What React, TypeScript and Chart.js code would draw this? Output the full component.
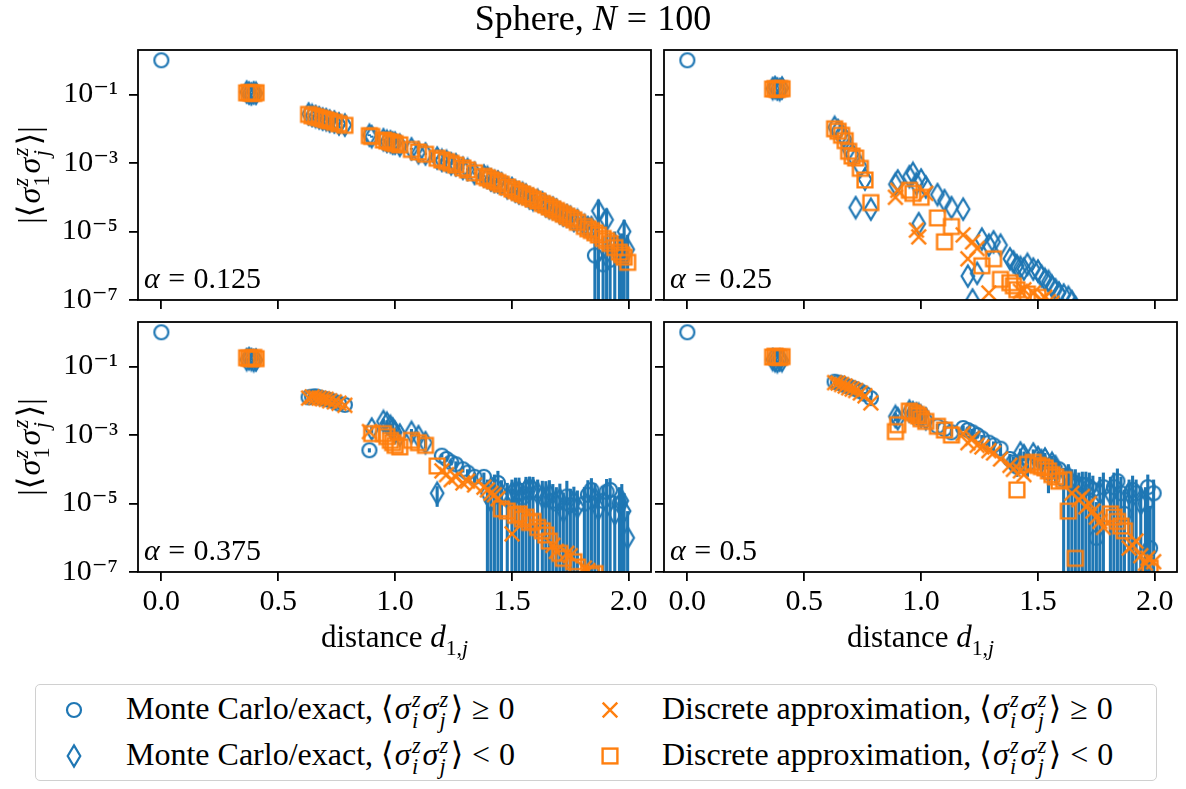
import React, { useEffect, useRef } from 'react';
import { Chart, registerables } from 'chart.js';

Chart.register(...registerables);

// ---------------- data ----------------
// distances d_{1,j} from site 1 (shared by all four panels); the last row holds
// additional sites in the dense far region
const distances = [
  0,
  0.365, 0.375, 0.385, 0.395, 0.405,
  0.63, 0.645, 0.66, 0.675, 0.69, 0.705, 0.72, 0.74, 0.76, 0.785,
  0.89, 0.9,
  0.95, 0.965, 0.98, 0.99, 1.0, 1.02,
  1.07, 1.1, 1.13,
  1.18, 1.2, 1.22, 1.24, 1.26, 1.29, 1.31, 1.34,
  1.38, 1.41, 1.44,
  1.48, 1.5, 1.53, 1.56, 1.59,
  1.63, 1.66, 1.69, 1.72, 1.75,
  1.78, 1.81, 1.84, 1.87, 1.89,
  1.92, 1.94, 1.96, 1.98, 1.995,
  1.395, 1.425, 1.455, 1.515, 1.545, 1.575, 1.61, 1.645, 1.675, 1.705, 1.735, 1.765, 1.825, 1.855, 1.905, 1.97,
];

const alphaLabels = ['0.125', '0.25', '0.375', '0.5'];

// alpha = 0.125
const mcA0125 = [
  1,
  -0.118, -0.11, -0.105, -0.112, -0.109,
  -0.027, -0.0245, -0.0228, -0.021, -0.0192, -0.0185, -0.0168, -0.0158, -0.0139, -0.0128,
  -6.5e-3, -5.9e-3,
  -4.8e-3, -4.3e-3, -4.2e-3, -3.8e-3, -3.8e-3, -3.3e-3,
  -2.6e-3, -2.0e-3, -1.85e-3,
  -1.4e-3, -1.2e-3, -1.12e-3, -9.5e-4, -8.9e-4, -7.0e-4, -6.5e-4, -5.0e-4,
  -4.2e-4, -3.2e-4, -2.8e-4,
  -1.9e-4, -1.8e-4, -1.35e-4, -1.15e-4, -8.6e-5,
  -6.9e-5, -5.0e-5, -4.3e-5, -3.0e-5, -2.6e-5,
  -2.1e-5, -1.5e-5, -1.3e-5, -4.0e-5, 1.1e-6,
  1.5e-6, -4.0e-6, 2.5e-6, -1.0e-5, -3.0e-6,
  -3.8e-4, -2.9e-4, -2.5e-4, -1.5e-4, -1.3e-4, -9.6e-5, -8.1e-5, -5.7e-5, -4.8e-5, -3.5e-5, -2.9e-5, -2.1e-5, -1.3e-5, 2.0e-6, -2.2e-5, 1.8e-6,
];
const mcErrA0125 = [
  0,
  5e-3, 5e-3, 5e-3, 5e-3, 5e-3,
  1e-3, 1e-3, 1e-3, 1e-3, 1e-3, 1e-3, 1e-3, 1e-3, 1e-3, 1e-3,
  4e-4, 4e-4,
  3e-4, 3e-4, 3e-4, 3e-4, 3e-4, 3e-4,
  1.5e-4, 1.5e-4, 1.5e-4,
  8e-5, 8e-5, 7e-5, 6e-5, 6e-5, 5e-5, 5e-5, 4e-5,
  3e-5, 2.5e-5, 2e-5,
  1.5e-5, 1.5e-5, 1.2e-5, 1e-5, 8e-6,
  6e-6, 5e-6, 4e-6, 3e-6, 3e-6,
  3e-6, 4e-6, 4e-6, 4.5e-5, 6e-6,
  7e-6, 6e-6, 5e-6, 1.2e-5, 5e-6,
  3e-5, 2.5e-5, 2e-5, 1.2e-5, 1e-5, 8e-6, 6e-6, 5e-6, 4e-6, 3e-6, 3e-6, 2e-6, 2e-6, 8e-6, 2.5e-5, 7e-6,
];
const daA0125 = [
  null,
  -0.112, -0.115, -0.11, -0.108, -0.113,
  -0.0263, -0.024, -0.0224, -0.0209, -0.0195, -0.0182, -0.017, -0.0155, -0.0141, -0.0126,
  -6.3e-3, -6.0e-3,
  -4.7e-3, -4.4e-3, -4.1e-3, -3.9e-3, -3.7e-3, -3.4e-3,
  -2.5e-3, -2.1e-3, -1.8e-3,
  -1.38e-3, -1.23e-3, -1.1e-3, -9.8e-4, -8.7e-4, -7.2e-4, -6.3e-4, -5.2e-4,
  -4.1e-4, -3.3e-4, -2.7e-4,
  -2.0e-4, -1.74e-4, -1.38e-4, -1.12e-4, -8.9e-5,
  -6.6e-5, -5.2e-5, -4.1e-5, -3.2e-5, -2.5e-5,
  -1.86e-5, -1.41e-5, -1.07e-5, -7.9e-6, -6.3e-6,
  -4.5e-6, -3.4e-6, -2.5e-6, -1.78e-6, -1.26e-6,
  -3.7e-4, -3.0e-4, -2.4e-4, -1.55e-4, -1.25e-4, -1.0e-4, -7.8e-5, -5.9e-5, -4.6e-5, -3.6e-5, -2.8e-5, -2.2e-5, -1.2e-5, -9.2e-6, -5.4e-6, -2.1e-6,
];

// alpha = 0.25
const mcA025 = [
  1,
  -0.15, -0.16, -0.145, -0.14, -0.155,
  -0.011, -8.9e-3, -7.1e-3, -5.0e-3, -2.5e-3, -1.8e-3, -5e-5, -8e-4, -3.4e-4, -4.5e-5,
  -2.4e-4, -3e-4,
  -4e-4, -5e-4, -2.5e-4, -1.7e-5, -3.2e-4, -2e-4,
  -1.2e-4, -8e-5, -5e-5,
  -4.5e-5, -5e-7, -1e-7, -6e-7, -6e-6, -4e-6, -5e-6, -4e-6,
  -1.6e-6, -1e-6, -8e-7,
  -8e-7, -7e-7, -4e-7, -2.5e-7, -1.6e-7,
  -1.2e-7, -6e-8, -4e-8, -3e-8, -2e-8,
  -1.5e-8, -1e-8, -8e-9, -6e-9, -5e-9,
  -4e-9, -3e-9, -2e-9, -1.5e-9, -1e-9,
  -1.3e-6, -9e-7, -1.1e-6, -5e-7, -3.5e-7, -2e-7, -1.4e-7, -9e-8, -5e-8, -3.5e-8, -2.5e-8, -1.8e-8, -9e-9, -7e-9, -4e-9, -2e-9,
];
const mcErrA025 = [
  0,
  0, 0, 0, 0, 0,
  0, 0, 0, 0, 0, 0, 0, 0, 0, 0,
  0, 0,
  0, 0, 0, 0, 0, 0,
  0, 0, 0,
  0, 0, 0, 0, 0, 0, 0, 0,
  0, 0, 0,
  0, 0, 0, 0, 0,
  0, 0, 0, 0, 0,
  0, 0, 0, 0, 0,
  0, 0, 0, 0, 0,
  0, 0, 0, 0, 0, 0, 0, 0, 0, 0, 0, 0, 0, 0, 0, 0,
];
const daA025 = [
  null,
  -0.145, -0.15, -0.14, -0.15, -0.148,
  -0.010, -8.5e-3, -6.5e-3, -4.5e-3, -2.2e-3, -1.6e-3, -1.4e-3, -7.0e-4, -3.2e-4, -7e-5,
  1e-4, 1.6e-4,
  -1.6e-4, -1.3e-4, 1.1e-5, 7e-6, -1.0e-4, 1.3e-4,
  -2.5e-5, -5e-6, -1.4e-5,
  8e-6, 1.6e-6, 5e-6, 3.2e-6, -1.0e-6, 1.6e-7, -1.6e-6, -4e-7,
  -3.2e-7, -2e-7, 2e-7,
  1.6e-7, -1.2e-7, 1.2e-7, 8e-8, 5e-8,
  3e-8, 2e-8, 1.5e-8, 1e-8, 8e-9,
  6e-9, 5e-9, 4e-9, 3e-9, 2e-9,
  1.5e-9, 1e-9, 8e-10, 6e-10, 5e-10,
  -2.6e-7, 1.8e-7, -1.5e-7, 1e-7, 9e-8, 6e-8, 4e-8, 3e-8, 2.5e-8, 1.6e-8, 1.2e-8, 9e-9, 4e-9, 3e-9, 1.5e-9, 7e-10,
];

// alpha = 0.375
const mcA0375 = [
  1,
  -0.16, -0.17, -0.16, -0.15, -0.155,
  0.0126, 0.0132, 0.0135, 0.0126, 0.0117, 0.0112, 0.0105, 9.5e-3, 8.3e-3, 7.6e-3,
  3.6e-4, -1.5e-3,
  -2.5e-3, -2.2e-3, -1.8e-3, -1.5e-3, -1.2e-3, -1.0e-3,
  -1.2e-3, -9e-4, -6e-4,
  -2e-5, 2.5e-4, 2e-4, 1.6e-4, 1.4e-4, 1.0e-4, 8e-5, 6e-5,
  6e-5, -1.2e-5, 4e-5,
  -1.5e-5, -2e-5, -2.2e-5, -2.5e-5, -2.5e-5,
  -1.6e-5, -1.8e-5, 1e-5, -6e-6, 9e-6,
  -8e-6, 1e-5, 2.5e-5, -7e-6, 1.2e-5,
  2.5e-5, -5e-6, 1e-5, -6e-6, -1e-6,
  -2e-5, 3e-5, -1.8e-5, -2.2e-5, 1.5e-5, -2.6e-5, -2e-5, -1.5e-5, 1.2e-5, -1.3e-5, 1.6e-5, -1.1e-5, 1.8e-5, -1.4e-5, 2.2e-5, -1.2e-5,
];
const mcErrA0375 = [
  0,
  0.01, 0.01, 0.01, 0.01, 0.01,
  1e-3, 1e-3, 1e-3, 1e-3, 1e-3, 1e-3, 1e-3, 1e-3, 1e-3, 1e-3,
  5e-5, 4e-4,
  5e-4, 5e-4, 4e-4, 4e-4, 3e-4, 3e-4,
  3e-4, 2e-4, 2e-4,
  1.2e-5, 3e-5, 3e-5, 3e-5, 3e-5, 2e-5, 2e-5, 2e-5,
  2e-5, 2e-5, 5e-5,
  2.5e-5, 3e-5, 3.5e-5, 3.5e-5, 3.5e-5,
  3e-5, 3e-5, 2e-5, 1.5e-5, 1.8e-5,
  1.6e-5, 2e-5, 3e-5, 1.5e-5, 2e-5,
  3e-5, 1.2e-5, 2e-5, 1.4e-5, 5e-6,
  3e-5, 4e-5, 3e-5, 3.5e-5, 2.5e-5, 3.5e-5, 3e-5, 3e-5, 2.5e-5, 2.5e-5, 3e-5, 2e-5, 3e-5, 2.5e-5, 3e-5, 2.5e-5,
];
const daA0375 = [
  null,
  -0.18, -0.175, -0.17, -0.185, -0.17,
  0.012, 0.013, 0.0125, 0.012, 0.0115, 0.011, 0.010, 9.3e-3, 8.5e-3, 7.4e-3,
  1.26e-3, -1.1e-3,
  -1.1e-3, -9e-4, -7e-4, -6e-4, -5e-4, -4.5e-4,
  -7e-4, -6e-4, -5e-4,
  -1.25e-4, 9e-5, 7e-5, 5e-5, 6e-5, 4e-5, 4.5e-5, 3.5e-5,
  3e-5, 2e-5, 1.4e-5,
  -6e-6, 1.3e-6, -5e-6, -4e-6, -3e-6,
  -1.6e-6, -8e-7, 4e-7, -2.5e-7, 3e-7,
  -1.4e-7, 1.3e-7, -8e-8, 6e-8, 5e-8,
  4e-8, 3e-8, 2e-8, 1.5e-8, 1e-8,
  2.5e-5, 1.8e-5, -7e-6, -4.5e-6, -3.5e-6, -2.8e-6, -2e-6, -1.2e-6, 6e-7, -3.5e-7, 3.5e-7, -2e-7, 1.1e-7, -9e-8, 5e-8, 3e-8,
];

// alpha = 0.5
const mcA05 = [
  1,
  -0.16, -0.15, -0.14, -0.155, -0.15,
  0.036, 0.034, 0.032, 0.028, 0.026, 0.024, 0.022, 0.019, 0.016, 0.012,
  -3.5e-3, -3.0e-3,
  -5e-3, -4.5e-3, -4.2e-3, -4e-3, -3.5e-3, -3e-3,
  1.8e-3, 1.5e-3, 1.2e-3,
  1.6e-3, 1.4e-3, 1.2e-3, 1.0e-3, 8e-4, 6e-4, 5e-4, 4e-4,
  2e-4, 1.2e-4, -2.5e-4,
  -2.8e-4, -2.2e-4, -2e-4, -1.5e-4, 1e-4,
  -6e-5, 4e-5, 3.5e-5, 3e-5, 1e-6,
  3e-5, -2e-5, 4.5e-5, 5e-6, -2e-5,
  2e-5, -1e-5, 1e-5, 5e-7, 2e-5,
  1.6e-4, -3e-4, 1.4e-4, -1.8e-4, 8e-5, -1.2e-4, 5e-5, 4e-5, -3e-5, 3.5e-5, 2.5e-5, -2e-5, 3e-5, 2e-5, 2.5e-5, 3e-5,
];
const mcErrA05 = [
  0,
  0.01, 0.01, 0.01, 0.01, 0.01,
  2e-3, 2e-3, 2e-3, 2e-3, 2e-3, 2e-3, 2e-3, 2e-3, 2e-3, 2e-3,
  1e-3, 1e-3,
  1.5e-3, 1.5e-3, 1.5e-3, 1.5e-3, 1e-3, 1e-3,
  3e-4, 3e-4, 3e-4,
  3e-4, 3e-4, 3e-4, 2e-4, 2e-4, 1.5e-4, 1.5e-4, 1.5e-4,
  8e-5, 6e-5, 8e-5,
  1e-4, 1e-4, 1e-4, 1e-4, 5e-5,
  8e-5, 6e-5, 5e-5, 5e-5, 1e-5,
  5e-5, 4e-5, 6e-5, 2e-5, 3e-5,
  3e-5, 2e-5, 2e-5, 8e-6, 3e-5,
  8e-5, 1e-4, 8e-5, 1e-4, 6e-5, 8e-5, 6e-5, 6e-5, 5e-5, 5e-5, 4e-5, 4e-5, 5e-5, 4e-5, 4e-5, 4e-5,
];
const daA05 = [
  null,
  -0.19, -0.2, -0.19, -0.185, -0.195,
  0.034, 0.033, 0.030, 0.027, 0.024, 0.022, 0.020, 0.017, 0.014, 8.7e-3,
  -1.26e-3, -2.0e-3,
  -5e-3, -4.5e-3, -4.0e-3, -3.6e-3, -3.0e-3, -2.5e-3,
  -1.8e-3, -1.4e-3, -1.0e-3,
  1.1e-3, 6e-4, 8e-4, 5e-4, 4.5e-4, 3.5e-4, 3e-4, 2e-4,
  1.3e-4, -2.5e-5, 7e-5,
  -1.6e-4, -1.3e-4, -1.1e-4, -7e-5, -4.5e-5,
  -6e-6, -2.5e-7, 1.6e-5, 1e-5, 4e-6,
  2e-6, -5e-6, -3e-6, -1.6e-6, 5e-7,
  8e-7, 3e-7, 1.8e-7, -1.3e-7, 2e-7,
  1e-4, 9e-5, -1.4e-4, -1.2e-4, -9e-5, -6e-5, -5e-5, 2e-5, 1.3e-5, 8e-6, 6e-6, 3e-6, -4e-6, -2.2e-6, 6e-7, 2.5e-7,
];

const xTickValues = [0, 0.5, 1, 1.5, 2];
const yTickValues = [1e-7, 1e-5, 1e-3, 1e-1];
const yTickLabels = ['10⁻⁷', '10⁻⁵', '10⁻³', '10⁻¹'];

const legendNames = ['Monte Carlo/exact', 'Monte Carlo/exact', 'Discrete approximation', 'Discrete approximation'];
const legendRelations = ['≥', '<', '≥', '<'];

// ---------------- styling / layout ----------------
const BLUE = '#1f77b4';
const ORANGE = '#ff7f0e';
const FONT = "'Liberation Serif', 'DejaVu Serif', serif";

const X_MIN = -0.1;
const X_MAX = 2.095;
const Y_MIN = 1e-7;
const Y_MAX = 2.0;

const FRAME_W = 513;
const FRAME_H = 250;
const PAD_L = 92;
const PAD_T = 36;
const PAD_R = 28;
const PAD_B = 52;

const PANELS = [
  { left: 138, top: 50, mc: mcA0125, err: mcErrA0125, da: daA0125, alpha: alphaLabels[0], showX: false, showY: true },
  { left: 664, top: 50, mc: mcA025, err: mcErrA025, da: daA025, alpha: alphaLabels[1], showX: false, showY: false },
  { left: 138, top: 322, mc: mcA0375, err: mcErrA0375, da: daA0375, alpha: alphaLabels[2], showX: true, showY: true },
  { left: 664, top: 322, mc: mcA05, err: mcErrA05, da: daA05, alpha: alphaLabels[3], showX: true, showY: false },
];

const MARKERS: Record<string, any> = {
  circle: { w: 20, h: 20, r: 7, lw: 2.2, color: BLUE },
  diamond: { w: 18, h: 26, hw: 6.3, hh: 10.6, lw: 2.2, color: BLUE },
  cross: { w: 20, h: 20, s: 7.3, lw: 2.4, color: ORANGE },
  square: { w: 20, h: 20, s: 7.4, lw: 2.4, color: ORANGE },
};

Chart.defaults.font.family = FONT;

function makeMarkerCanvas(kind: string): HTMLCanvasElement {
  const m = MARKERS[kind];
  const c = document.createElement('canvas');
  c.width = m.w;
  c.height = m.h;
  const ctx = c.getContext('2d') as CanvasRenderingContext2D;
  const cx = m.w / 2;
  const cy = m.h / 2;
  ctx.strokeStyle = m.color;
  ctx.lineWidth = m.lw;
  ctx.lineJoin = 'miter';
  ctx.beginPath();
  if (kind === 'circle') {
    ctx.arc(cx, cy, m.r, 0, Math.PI * 2);
  } else if (kind === 'diamond') {
    ctx.moveTo(cx, cy - m.hh);
    ctx.lineTo(cx + m.hw, cy);
    ctx.lineTo(cx, cy + m.hh);
    ctx.lineTo(cx - m.hw, cy);
    ctx.closePath();
  } else if (kind === 'cross') {
    ctx.moveTo(cx - m.s, cy - m.s);
    ctx.lineTo(cx + m.s, cy + m.s);
    ctx.moveTo(cx + m.s, cy - m.s);
    ctx.lineTo(cx - m.s, cy + m.s);
  } else {
    ctx.rect(cx - m.s, cy - m.s, 2 * m.s, 2 * m.s);
  }
  ctx.stroke();
  return c;
}

function MarkerSvg({ kind }: { kind: string }) {
  const m = MARKERS[kind];
  const cx = m.w / 2;
  const cy = m.h / 2;
  let shape: any = null;
  if (kind === 'circle') shape = <circle cx={cx} cy={cy} r={m.r} fill="none" stroke={m.color} strokeWidth={m.lw} />;
  else if (kind === 'diamond')
    shape = (
      <polygon
        points={`${cx},${cy - m.hh} ${cx + m.hw},${cy} ${cx},${cy + m.hh} ${cx - m.hw},${cy}`}
        fill="none"
        stroke={m.color}
        strokeWidth={m.lw}
      />
    );
  else if (kind === 'cross')
    shape = (
      <path
        d={`M${cx - m.s},${cy - m.s} L${cx + m.s},${cy + m.s} M${cx + m.s},${cy - m.s} L${cx - m.s},${cy + m.s}`}
        stroke={m.color}
        strokeWidth={m.lw}
        fill="none"
      />
    );
  else shape = <rect x={cx - m.s} y={cy - m.s} width={2 * m.s} height={2 * m.s} fill="none" stroke={m.color} strokeWidth={m.lw} />;
  return (
    <svg width={m.w} height={m.h} style={{ display: 'block' }}>
      {shape}
    </svg>
  );
}

type Pt = { x: number; y: number; err: number };

function splitSigned(values: (number | null)[], errs: number[] | null): [Pt[], Pt[]] {
  const pos: Pt[] = [];
  const neg: Pt[] = [];
  values.forEach((v, i) => {
    if (v === null || v === undefined) return;
    const p = { x: distances[i], y: Math.abs(v), err: errs ? errs[i] : 0 };
    if (v >= 0) pos.push(p);
    else neg.push(p);
  });
  return [pos, neg];
}

const frameErrorPlugin = {
  id: 'frameAndErrorBars',
  beforeDatasetsDraw(chart: any) {
    const { ctx, chartArea, scales } = chart;
    const xs = scales.x;
    const ys = scales.y;
    ctx.save();
    ctx.beginPath();
    ctx.rect(chartArea.left, chartArea.top, chartArea.right - chartArea.left, chartArea.bottom - chartArea.top);
    ctx.clip();
    ctx.strokeStyle = BLUE;
    ctx.lineWidth = 3.1;
    chart.data.datasets.forEach((ds: any) => {
      if (!ds.errorBars) return;
      ds.data.forEach((p: Pt) => {
        if (!p.err) return;
        const px = xs.getPixelForValue(p.x);
        const top = ys.getPixelForValue(p.y + p.err);
        const lo = p.y - p.err;
        const bottom = lo > 0 ? ys.getPixelForValue(lo) : chartArea.bottom + 4;
        ctx.beginPath();
        ctx.moveTo(px, top);
        ctx.lineTo(px, bottom);
        ctx.stroke();
      });
    });
    ctx.restore();
  },
  afterDraw(chart: any) {
    const { ctx, chartArea } = chart;
    ctx.save();
    ctx.strokeStyle = '#000';
    ctx.lineWidth = 1.8;
    ctx.strokeRect(chartArea.left, chartArea.top, chartArea.right - chartArea.left, chartArea.bottom - chartArea.top);
    ctx.restore();
  },
};

function buildConfig(panel: any, imgs: Record<string, HTMLCanvasElement>): any {
  const [mcPos, mcNeg] = splitSigned(panel.mc, panel.err);
  const [daPos, daNeg] = splitSigned(panel.da, null);
  const common = { showLine: false, pointRadius: 8, pointHoverRadius: 8, clip: 0 };
  const gridOpts = {
    display: true,
    drawOnChartArea: false,
    drawTicks: true,
    tickLength: 9,
    tickWidth: 1.8,
    tickColor: '#000',
    color: '#000',
    lineWidth: 1.8,
  };
  const tickFont = { family: FONT, size: 30 };
  return {
    type: 'scatter',
    data: {
      datasets: [
        { label: 'Discrete approximation < 0', data: daNeg, pointStyle: imgs.square, order: 0, ...common },
        { label: 'Discrete approximation ≥ 0', data: daPos, pointStyle: imgs.cross, order: 1, ...common },
        { label: 'Monte Carlo/exact < 0', data: mcNeg, pointStyle: imgs.diamond, order: 2, errorBars: true, ...common },
        { label: 'Monte Carlo/exact ≥ 0', data: mcPos, pointStyle: imgs.circle, order: 3, errorBars: true, ...common },
      ],
    },
    options: {
      animation: false,
      responsive: false,
      devicePixelRatio: 1,
      events: [],
      layout: { padding: { left: 0, top: PAD_T, right: PAD_R, bottom: 0 } },
      plugins: { legend: { display: false }, tooltip: { enabled: false }, title: { display: false } },
      scales: {
        x: {
          type: 'linear',
          position: 'bottom',
          min: X_MIN,
          max: X_MAX,
          afterBuildTicks: (s: any) => {
            s.ticks = xTickValues.map((v) => ({ value: v }));
          },
          afterFit: (s: any) => {
            s.height = PAD_B;
          },
          ticks: {
            display: panel.showX,
            autoSkip: false,
            maxRotation: 0,
            padding: 3,
            color: '#000',
            font: tickFont,
            callback: (v: any) => Number(v).toFixed(1),
          },
          grid: gridOpts,
          border: { display: false },
        },
        y: {
          type: 'logarithmic',
          position: 'left',
          min: Y_MIN,
          max: Y_MAX,
          afterBuildTicks: (s: any) => {
            s.ticks = yTickValues.map((v) => ({ value: v }));
          },
          afterFit: (s: any) => {
            s.width = PAD_L;
          },
          ticks: {
            display: panel.showY,
            autoSkip: false,
            padding: 11,
            color: '#000',
            font: tickFont,
            callback: (_v: any, i: number) => yTickLabels[i],
          },
          grid: gridOpts,
          border: { display: false },
        },
      },
    },
    plugins: [frameErrorPlugin],
  };
}

// stacked superscript / subscript (as in sigma_1^z)
function SS({ sup, sub, subItalic }: { sup: string; sub: string; subItalic: boolean }) {
  return (
    <span
      style={{
        display: 'inline-block',
        verticalAlign: '-0.42em',
        fontSize: '0.7em',
        lineHeight: 0.95,
        marginLeft: '0.06em',
        marginRight: '0.08em',
      }}
    >
      <span style={{ display: 'block', fontStyle: 'italic' }}>{sup}</span>
      <span style={{ display: 'block', fontStyle: subItalic ? 'italic' : 'normal' }}>{sub}</span>
    </span>
  );
}

function Corr({ a, b }: { a: string; b: string }) {
  return (
    <span>
      <span style={{ marginRight: '0.04em' }}>⟨</span>
      <i>σ</i>
      <SS sup="z" sub={a} subItalic={a !== '1'} />
      <i>σ</i>
      <SS sup="z" sub={b} subItalic={true} />
      <span style={{ marginLeft: '0.02em' }}>⟩</span>
    </span>
  );
}

export default function App() {
  const r0 = useRef<HTMLCanvasElement>(null);
  const r1 = useRef<HTMLCanvasElement>(null);
  const r2 = useRef<HTMLCanvasElement>(null);
  const r3 = useRef<HTMLCanvasElement>(null);
  const refs = [r0, r1, r2, r3];

  useEffect(() => {
    const imgs = {
      circle: makeMarkerCanvas('circle'),
      diamond: makeMarkerCanvas('diamond'),
      cross: makeMarkerCanvas('cross'),
      square: makeMarkerCanvas('square'),
    };
    const charts = PANELS.map((p, i) => new Chart(refs[i].current as HTMLCanvasElement, buildConfig(p, imgs)));
    let alive = true;
    const fonts: any = (document as any).fonts;
    if (fonts && fonts.load) {
      Promise.all([fonts.load("30px 'Liberation Serif'"), fonts.load("italic 30px 'Liberation Serif'")])
        .then(() => {
          if (alive) charts.forEach((c) => c.update());
        })
        .catch(() => {});
    }
    return () => {
      alive = false;
      charts.forEach((c) => c.destroy());
    };
  }, []);

  const cw = PAD_L + FRAME_W + PAD_R;
  const ch = PAD_T + FRAME_H + PAD_B;
  const rowCenters = [50 + FRAME_H / 2, 322 + FRAME_H / 2];
  const colCenters = [138 + FRAME_W / 2, 664 + FRAME_W / 2];
  const legendEntries = [
    { kind: 'circle', col: 0, row: 0 },
    { kind: 'diamond', col: 0, row: 1 },
    { kind: 'cross', col: 1, row: 0 },
    { kind: 'square', col: 1, row: 1 },
  ];
  const legendMarkerX = [74, 610];
  const legendTextX = [126, 662];
  const legendRowY = [710, 756];

  return (
    <div
      style={{
        position: 'relative',
        width: 1186,
        height: 789,
        background: '#fff',
        fontFamily: FONT,
        color: '#000',
        overflow: 'hidden',
      }}
    >
      <style>{'html,body{margin:0;padding:0;background:#fff;}'}</style>
      {PANELS.map((p, i) => (
        <canvas
          key={i}
          ref={refs[i]}
          width={cw}
          height={ch}
          style={{ position: 'absolute', left: p.left - PAD_L, top: p.top - PAD_T, width: cw, height: ch }}
        />
      ))}

      {/* title */}
      <div style={{ position: 'absolute', left: 0, top: 0, width: 1186, textAlign: 'center', fontSize: 36, lineHeight: 1 }}>
        Sphere, <i>N</i>
        <span style={{ margin: '0 0.28em' }}>=</span>100
      </div>

      {/* alpha labels */}
      {PANELS.map((p, i) => (
        <div
          key={'a' + i}
          style={{
            position: 'absolute',
            left: p.left + 6,
            top: p.top + FRAME_H - 37,
            fontSize: 30,
            lineHeight: 1,
            whiteSpace: 'nowrap',
          }}
        >
          <i>α</i>
          <span style={{ margin: '0 0.28em' }}>=</span>
          {p.alpha}
        </div>
      ))}

      {/* y labels */}
      {rowCenters.map((cy, i) => (
        <div
          key={'y' + i}
          style={{
            position: 'absolute',
            left: 31,
            top: cy,
            transform: 'translate(-50%, -50%) rotate(-90deg)',
            fontSize: 32,
            lineHeight: 1,
            whiteSpace: 'nowrap',
          }}
        >
          |<Corr a="1" b="j" />|
        </div>
      ))}

      {/* x labels */}
      {colCenters.map((cx, i) => (
        <div
          key={'x' + i}
          style={{
            position: 'absolute',
            left: cx,
            top: 621,
            transform: 'translateX(-50%)',
            fontSize: 31,
            lineHeight: 1,
            whiteSpace: 'nowrap',
          }}
        >
          distance <i>d</i>
          <span style={{ fontSize: '0.7em', verticalAlign: '-0.35em', lineHeight: 0 }}>
            1,<i>j</i>
          </span>
        </div>
      ))}

      {/* legend */}
      <div
        style={{
          position: 'absolute',
          left: 35,
          top: 684,
          width: 1122,
          height: 97,
          boxSizing: 'border-box',
          border: '1.6px solid #d0d0d0',
          borderRadius: 5,
          background: 'rgba(255,255,255,0.8)',
        }}
      />
      {legendEntries.map((e, i) => {
        const m = MARKERS[e.kind];
        return (
          <React.Fragment key={'l' + i}>
            <div
              style={{
                position: 'absolute',
                left: legendMarkerX[e.col] - m.w / 2,
                top: legendRowY[e.row] - m.h / 2,
              }}
            >
              <MarkerSvg kind={e.kind} />
            </div>
            <div
              style={{
                position: 'absolute',
                left: legendTextX[e.col],
                top: legendRowY[e.row],
                transform: 'translateY(-50%)',
                fontSize: 32,
                lineHeight: 1,
                whiteSpace: 'nowrap',
              }}
            >
              {legendNames[i]}, <Corr a="i" b="j" />
              <span style={{ margin: '0 0.28em' }}>{legendRelations[i]}</span>0
            </div>
          </React.Fragment>
        );
      })}
    </div>
  );
}
